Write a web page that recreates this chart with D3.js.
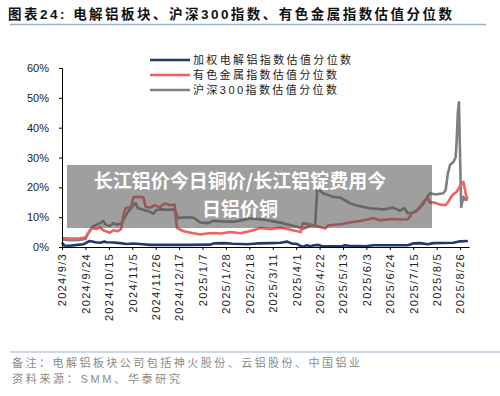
<!DOCTYPE html>
<html>
<head>
<meta charset="utf-8">
<script src="https://cdn.jsdelivr.net/npm/d3@7"></script>
<style>
  body { margin: 0; background: #fff; }
  svg { display: block; }
</style>
</head>
<body>
<svg id="chart" width="500" height="396"></svg>
<script>
// 估值分位数 (%)
const alumSeries = [
  ["2024-09-03",1.5],["2024-09-05",0.5],["2024-09-10",0.4],["2024-09-17",0.7],["2024-09-22",0.9],
  ["2024-09-25",1.5],["2024-09-28",2.0],["2024-10-03",1.6],["2024-10-07",1.4],["2024-10-11",1.8],
  ["2024-10-13",1.6],["2024-10-19",1.5],["2024-10-25",1.3],["2024-10-31",1.0],["2024-11-06",1.2],
  ["2024-11-12",1.0],["2024-11-21",0.7],["2024-12-09",0.7],["2024-12-27",0.7],["2025-01-14",0.8],
  ["2025-01-17",1.2],["2025-01-27",1.3],["2025-02-03",1.1],["2025-02-10",1.0],["2025-02-16",0.9],
  ["2025-02-25",1.2],["2025-03-09",1.3],["2025-03-18",1.4],["2025-03-24",1.8],["2025-03-28",1.2],
  ["2025-04-02",1.0],["2025-04-05",0.3],["2025-04-07",0.1],["2025-04-11",0.6],["2025-04-14",0.2],
  ["2025-04-16",0.5],["2025-04-21",0.7],["2025-04-25",0.2],["2025-05-11",0.2],["2025-05-15",0.6],
  ["2025-05-19",0.3],["2025-05-28",0.3],["2025-06-02",0.2],["2025-06-09",0.6],["2025-07-10",0.6],
  ["2025-07-15",1.2],["2025-07-21",1.3],["2025-07-28",0.9],["2025-08-02",1.3],["2025-08-20",1.4],
  ["2025-08-26",1.9],["2025-09-02",2.0]
];

const metalSeries = [
  ["2024-09-03",3.0],["2024-09-10",2.8],["2024-09-19",2.9],["2024-09-24",3.2],["2024-09-26",4.5],
  ["2024-09-30",6.3],["2024-10-04",6.0],["2024-10-07",6.6],["2024-10-10",5.6],["2024-10-13",5.2],
  ["2024-10-16",4.8],["2024-10-19",5.6],["2024-10-23",5.3],["2024-10-26",6.0],["2024-10-28",10.5],
  ["2024-10-30",13.0],["2024-11-04",13.5],["2024-11-06",16.7],["2024-11-12",16.8],["2024-11-15",16.6],
  ["2024-11-17",13.5],["2024-11-21",13.2],["2024-11-25",14.0],["2024-11-30",13.3],["2024-12-03",14.3],
  ["2024-12-05",14.6],["2024-12-09",14.0],["2024-12-13",14.2],["2024-12-15",6.5],["2024-12-18",5.8],
  ["2024-12-22",5.2],["2024-12-30",4.6],["2025-01-05",4.2],["2025-01-11",4.5],["2025-01-17",4.7],
  ["2025-01-23",4.5],["2025-02-01",5.0],["2025-02-10",4.6],["2025-02-19",5.4],["2025-02-28",6.4],
  ["2025-03-09",6.0],["2025-03-18",6.5],["2025-03-27",5.8],["2025-04-05",5.0],["2025-04-07",8.0],
  ["2025-04-14",7.5],["2025-04-23",6.6],["2025-04-27",6.2],["2025-04-30",7.3],["2025-05-11",7.6],
  ["2025-05-19",8.2],["2025-05-28",8.7],["2025-06-04",9.2],["2025-06-09",9.7],["2025-06-15",9.0],
  ["2025-06-27",9.4],["2025-07-03",9.2],["2025-07-10",9.3],["2025-07-12",10.2],["2025-07-14",11.5],
  ["2025-07-18",12.0],["2025-07-21",13.5],["2025-07-24",15.0],["2025-07-28",16.4],["2025-07-30",14.8],
  ["2025-08-02",15.0],["2025-08-08",14.2],["2025-08-13",14.0],["2025-08-16",15.5],["2025-08-19",17.4],
  ["2025-08-23",18.5],["2025-08-26",20.5],["2025-08-29",21.8],["2025-08-31",18.0],["2025-09-01",16.5],
  ["2025-09-02",16.0]
];

const hs300Series = [
  ["2024-09-03",2.5],["2024-09-10",2.3],["2024-09-19",2.4],["2024-09-24",2.7],["2024-09-26",4.2],
  ["2024-09-30",6.7],["2024-10-04",7.5],["2024-10-07",8.0],["2024-10-10",8.7],["2024-10-12",7.5],
  ["2024-10-16",7.0],["2024-10-19",8.0],["2024-10-22",7.5],["2024-10-26",7.8],["2024-10-29",9.7],
  ["2024-11-01",11.7],["2024-11-05",13.5],["2024-11-08",14.7],["2024-11-10",13.0],["2024-11-15",12.5],
  ["2024-11-21",11.8],["2024-11-24",11.2],["2024-11-27",12.5],["2024-12-02",12.6],["2024-12-05",12.5],
  ["2024-12-13",12.6],["2024-12-16",9.7],["2024-12-23",10.0],["2024-12-30",9.8],["2025-01-05",8.2],
  ["2025-01-12",8.0],["2025-01-17",8.8],["2025-01-23",8.6],["2025-02-05",8.5],["2025-02-19",9.6],
  ["2025-03-02",9.2],["2025-03-13",8.5],["2025-03-20",8.0],["2025-03-27",7.3],["2025-04-02",6.8],
  ["2025-04-07",6.0],["2025-04-14",7.2],["2025-04-18",7.2],["2025-04-20",19.8],["2025-04-25",18.0],
  ["2025-05-04",16.8],["2025-05-11",16.5],["2025-05-19",14.7],["2025-05-26",13.8],["2025-06-06",13.0],
  ["2025-06-18",12.6],["2025-06-27",13.2],["2025-07-03",12.2],["2025-07-07",13.0],["2025-07-10",11.3],
  ["2025-07-15",11.5],["2025-07-20",12.8],["2025-07-24",14.5],["2025-07-28",17.0],["2025-07-30",18.0],
  ["2025-08-04",17.6],["2025-08-11",18.0],["2025-08-13",19.0],["2025-08-15",24.5],["2025-08-17",27.5],
  ["2025-08-20",28.5],["2025-08-22",30.0],["2025-08-23",36.0],["2025-08-24",45.0],["2025-08-25",48.5],
  ["2025-08-26",30.0],["2025-08-27",13.4],["2025-08-29",16.8],["2025-08-31",15.8],["2025-09-02",16.0]
];

const xTickDates = ["2024-09-03","2024-09-24","2024-10-15","2024-11-05","2024-11-26","2024-12-17",
  "2025-01-07","2025-01-28","2025-02-18","2025-03-11","2025-04-01","2025-04-22","2025-05-13",
  "2025-06-03","2025-06-24","2025-07-15","2025-08-05","2025-08-26"];
const yTicks = [0, 10, 20, 30, 40, 50, 60];

const seriesNames = ["加权电解铝指数估值分位数", "有色金属指数估值分位数", "沪深300指数估值分位数"];
const seriesColors = ["#1f3a6e", "#ef6262", "#7f7f7f"];

const titleText = "图表24:  电解铝板块、沪深300指数、有色金属指数估值分位数";
const noteLines = ["备注：电解铝板块公司包括神火股份、云铝股份、中国铝业", "资料来源：SMM、华泰研究"];
const overlayLines = ["长江铝价今日铜价/长江铝锭费用今", "日铝价铜"];

const parse = d3.timeParse("%Y-%m-%d");
const fmtTick = d => (d.getFullYear()) + "/" + (d.getMonth() + 1) + "/" + d.getDate();

const svg = d3.select("#chart");
const cjk = "'Liberation Sans', 'Noto Sans CJK SC', sans-serif";

const x = d3.scaleTime()
  .domain([parse("2024-09-03"), parse("2025-09-03")])
  .range([62, 469]);
const y = d3.scaleLinear().domain([0, 60]).range([247, 68]);

// title + rule
svg.append("text")
  .attr("x", 8).attr("y", 19)
  .attr("font-family", cjk).attr("font-weight", "bold").attr("font-size", 13.5)
  .attr("fill", "#111")
  .attr("textLength", 444).attr("lengthAdjust", "spacing")
  .text(titleText);
svg.append("line")
  .attr("x1", 10).attr("x2", 486).attr("y1", 24.5).attr("y2", 24.5)
  .attr("stroke", "#9db2cf").attr("stroke-width", 1.5);

// lines
const line = d3.line()
  .x(d => x(parse(d[0])))
  .y(d => y(d[1]));

const plot = svg.append("g");
[hs300Series, metalSeries, alumSeries].forEach((s, i) => {
  const col = [seriesColors[2], seriesColors[1], seriesColors[0]][i];
  plot.append("path")
    .attr("d", line(s))
    .attr("fill", "none")
    .attr("stroke", col)
    .attr("stroke-width", 2.6)
    .attr("stroke-linejoin", "round");
});

// axes
const yAxis = d3.axisLeft(y).tickValues(yTicks).tickFormat(d => d + "%").tickSize(3).tickPadding(10);
const gy = svg.append("g").attr("transform", "translate(62,0)").call(yAxis);
gy.select(".domain").attr("stroke", "#000");
gy.selectAll("text").attr("font-family", "'Liberation Sans', Arial, sans-serif").attr("font-size", 11).attr("fill", "#222");

const xAxis = d3.axisBottom(x).tickValues(xTickDates.map(parse)).tickFormat(fmtTick).tickSize(3).tickSizeOuter(0);
const gx = svg.append("g").attr("transform", "translate(0,247)").call(xAxis);
gx.select(".domain").attr("stroke", "#000");
gx.selectAll("text")
  .attr("font-family", "'Liberation Sans', Arial, sans-serif").attr("font-size", 11).attr("fill", "#222")
  .attr("letter-spacing", 1.3)
  .attr("transform", "rotate(-90)")
  .attr("text-anchor", "end")
  .attr("x", -6).attr("y", 0).attr("dy", "0.35em");

// legend
const legend = svg.append("g");
seriesNames.forEach((name, i) => {
  const ly = 60 + i * 15;
  legend.append("line")
    .attr("x1", 150).attr("x2", 190).attr("y1", ly).attr("y2", ly)
    .attr("stroke", seriesColors[i]).attr("stroke-width", 2.6);
  legend.append("text")
    .attr("x", 193).attr("y", ly + 4)
    .attr("font-family", cjk).attr("font-size", 11).attr("fill", "#222")
    .attr("textLength", i === 0 ? 158 : 144).attr("lengthAdjust", "spacing")
    .text(name);
});

// footnote
svg.append("line")
  .attr("x1", 10).attr("x2", 500).attr("y1", 352).attr("y2", 352)
  .attr("stroke", "#9db2cf").attr("stroke-width", 1);
noteLines.forEach((t, i) => {
  svg.append("text")
    .attr("x", 12).attr("y", 367 + i * 16)
    .attr("font-family", cjk).attr("font-size", 11).attr("fill", "#8a8a8a")
    .attr("textLength", i === 0 ? 348 : 168).attr("lengthAdjust", "spacing")
    .text(t);
});

// watermark overlay
svg.append("rect")
  .attr("x", 67).attr("y", 165).attr("width", 365).attr("height", 63)
  .attr("fill", "rgb(80,80,80)").attr("fill-opacity", 0.55);
overlayLines.forEach((t, i) => {
  svg.append("text")
    .attr("x", 240).attr("y", 188 + i * 28)
    .attr("text-anchor", "middle")
    .attr("font-family", "'Noto Sans CJK SC', sans-serif").attr("font-weight", "bold")
    .attr("font-size", 19).attr("fill", "#fff")
    .text(t);
});
</script>
</body>
</html>
